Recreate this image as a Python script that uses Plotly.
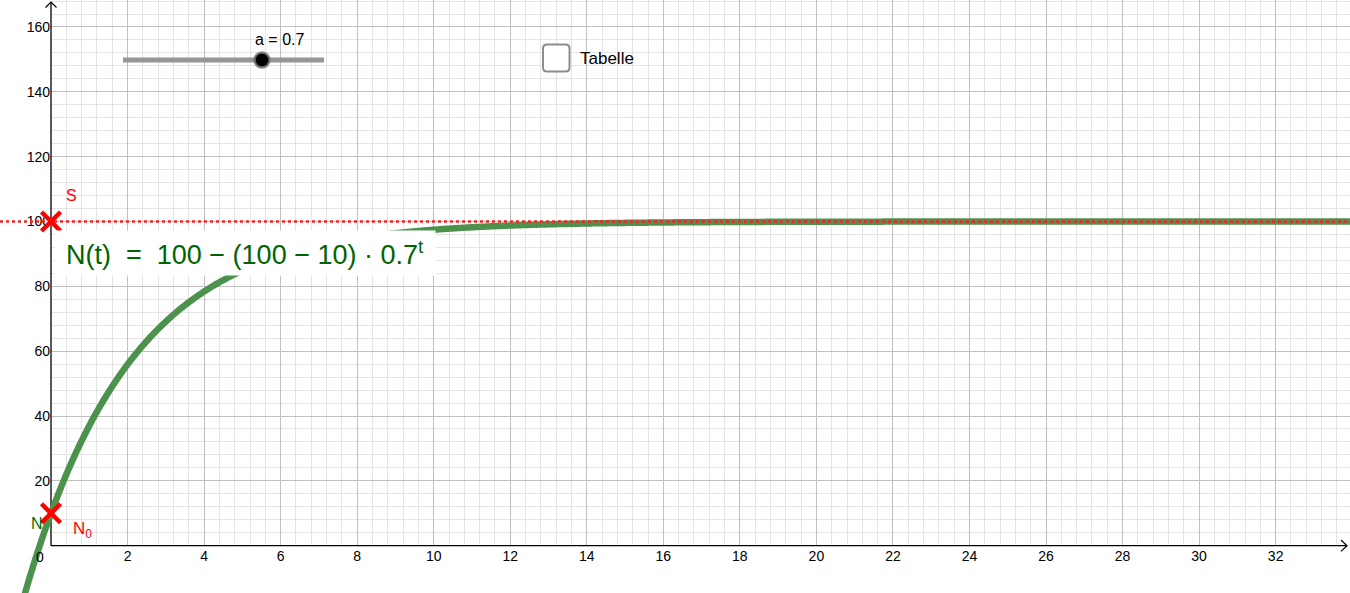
import numpy as np
import plotly.graph_objects as go

# ---- data / parameters shown in the chart ----
S_value = 100          # saturation S
N0_value = 10          # initial value N0
a_value = 0.7          # slider a
x_ticks = list(range(2, 33, 2))
y_ticks = list(range(20, 161, 20))

# ---- view geometry (GeoGebra graphics view) ----
W, H = 1350, 593
X0PX, PXX = 51.0, 38.27      # pixel of x=0, pixels per unit
Y0PX, PXY = 545.7, 3.242     # pixel of y=0, pixels per unit
xr = [-X0PX / PXX, (W - X0PX) / PXX]
yr = [-(H - Y0PX) / PXY, Y0PX / PXY]

def dx(px):
    return (px - X0PX) / PXX

def dy(py):
    return (Y0PX - py) / PXY

fig = go.Figure()

# invisible trace on the grid subplot (first quadrant only)
fig.add_trace(go.Scatter(x=[1], y=[1], mode="markers", marker=dict(opacity=0),
                         xaxis="x", yaxis="y", showlegend=False, hoverinfo="skip"))

def add(tr):
    tr.update(xaxis="x2", yaxis="y2", hoverinfo="skip", showlegend=False)
    fig.add_trace(tr)

# axes (positive direction only) with arrows
add(go.Scatter(x=[0, dx(1347)], y=[0, 0], mode="lines", line=dict(color="black", width=1.3)))
add(go.Scatter(x=[0, 0], y=[0, dy(2)], mode="lines", line=dict(color="black", width=1.3)))
add(go.Scatter(x=[dx(1341), dx(1347), dx(1341)], y=[dy(540), dy(545.7), dy(551.4)],
               mode="lines", line=dict(color="black", width=1.2)))
add(go.Scatter(x=[dx(45.5), dx(51), dx(56.5)], y=[dy(7.5), dy(2), dy(7.5)],
               mode="lines", line=dict(color="black", width=1.2)))

# function curve N(t) = S - (S - N0) * a^t
t = np.linspace(xr[0], xr[1], 1500)
N = S_value - (S_value - N0_value) * a_value ** t
add(go.Scatter(x=t, y=N, mode="lines", line=dict(color="rgb(76,145,76)", width=6.5, simplify=False)))

# dotted asymptote y = S
add(go.Scatter(x=[xr[0], xr[1]], y=[S_value, S_value], mode="lines",
               line=dict(color="rgb(235,40,40)", width=2.5, dash="dot")))

# points S and N0
add(go.Scatter(x=[0, 0], y=[S_value, N0_value], mode="markers",
               marker=dict(symbol="x-thin", size=19, line=dict(color="red", width=4.5))))

# slider
add(go.Scatter(x=[dx(123), dx(324)], y=[dy(60), dy(60)], mode="lines",
               line=dict(color="rgb(150,150,150)", width=5)))
add(go.Scatter(x=[dx(262)], y=[dy(60)], mode="markers",
               marker=dict(size=15, color="black", line=dict(color="rgba(120,120,120,0.8)", width=2.5))))

# checkbox (rounded square)
def rrect(x0, y0, x1, y1, r):
    pts = [
        f"M {dx(x0 + r)},{dy(y0)}", f"L {dx(x1 - r)},{dy(y0)}", f"Q {dx(x1)},{dy(y0)} {dx(x1)},{dy(y0 + r)}",
        f"L {dx(x1)},{dy(y1 - r)}", f"Q {dx(x1)},{dy(y1)} {dx(x1 - r)},{dy(y1)}",
        f"L {dx(x0 + r)},{dy(y1)}", f"Q {dx(x0)},{dy(y1)} {dx(x0)},{dy(y1 - r)}",
        f"L {dx(x0)},{dy(y0 + r)}", f"Q {dx(x0)},{dy(y0)} {dx(x0 + r)},{dy(y0)}", "Z",
    ]
    return " ".join(pts)

shapes = [
    dict(type="path", path=rrect(543, 44.5, 569.5, 71.5, 4), xref="x2", yref="y2",
         line=dict(color="rgb(140,140,140)", width=2), fillcolor="white", layer="above"),
]

font = "Liberation Sans, Arial, sans-serif"
A = dict(xref="x2", yref="y2", showarrow=False)
annotations = [
    dict(A, x=dx(279), y=dy(39), text="a = 0.7", font=dict(family=font, size=16, color="black")),
    dict(A, x=dx(578), y=dy(58), text="Tabelle", xanchor="left", font=dict(family=font, size=17, color="black")),
    dict(A, x=dx(71), y=dy(195), text="S", font=dict(family=font, size=16, color="red")),
    dict(A, x=dx(71), y=dy(530), text="N<sub>0</sub>", xanchor="left", font=dict(family=font, size=17, color="red")),
    dict(A, x=dx(37), y=dy(523), text="N", font=dict(family=font, size=16, color="rgb(0,110,0)")),
    dict(A, x=dx(40), y=dy(557), text="0", font=dict(family=font, size=14, color="black")),
    dict(A, x=dx(245), y=dy(252.5), text="N(t)  =  100 − (100 − 10) · 0.7<sup>t</sup>",
         width=380, height=44, bgcolor="white", borderpad=0,
         font=dict(family="Liberation Sans Narrow, Liberation Sans, sans-serif", size=27, color="rgb(0,100,0)")),
]

grid_major = "rgb(192,192,192)"
grid_minor = "rgb(228,228,228)"
x0frac = X0PX / W
y0frac = (H - Y0PX) / H

fig.update_layout(
    width=W, height=H, margin=dict(l=0, r=0, t=0, b=0),
    paper_bgcolor="white", plot_bgcolor="rgba(0,0,0,0)",
    shapes=shapes, annotations=annotations,
    # grid axes: first quadrant only, tick labels sit on the coordinate axes
    xaxis=dict(domain=[x0frac, 1], range=[0, xr[1]], anchor="y",
               tickmode="array", tickvals=x_ticks, ticktext=[str(v) for v in x_ticks],
               ticks="", showline=False, zeroline=False, showgrid=True, gridcolor=grid_major, gridwidth=1,
               minor=dict(tickmode="linear", tick0=0, dtick=0.4, showgrid=True, gridcolor=grid_minor, ticks=""),
               tickfont=dict(family=font, size=14, color="black"), fixedrange=True),
    yaxis=dict(domain=[y0frac, 1], range=[0, yr[1]], anchor="x",
               tickmode="array", tickvals=y_ticks, ticktext=[str(v) for v in y_ticks],
               ticks="", showline=False, zeroline=False, showgrid=True, gridcolor=grid_major, gridwidth=1,
               minor=dict(tickmode="linear", tick0=0, dtick=4, showgrid=True, gridcolor=grid_minor, ticks=""),
               tickfont=dict(family=font, size=14, color="black"), fixedrange=True),
    # drawing axes: whole view
    xaxis2=dict(domain=[0, 1], range=xr, anchor="y2", visible=False, fixedrange=True),
    yaxis2=dict(domain=[0, 1], range=yr, anchor="x2", visible=False, fixedrange=True),
)

fig.write_html("out.html", config={"displayModeBar": False},
               post_script="document.body.style.margin='0';document.body.style.overflow='hidden';")
